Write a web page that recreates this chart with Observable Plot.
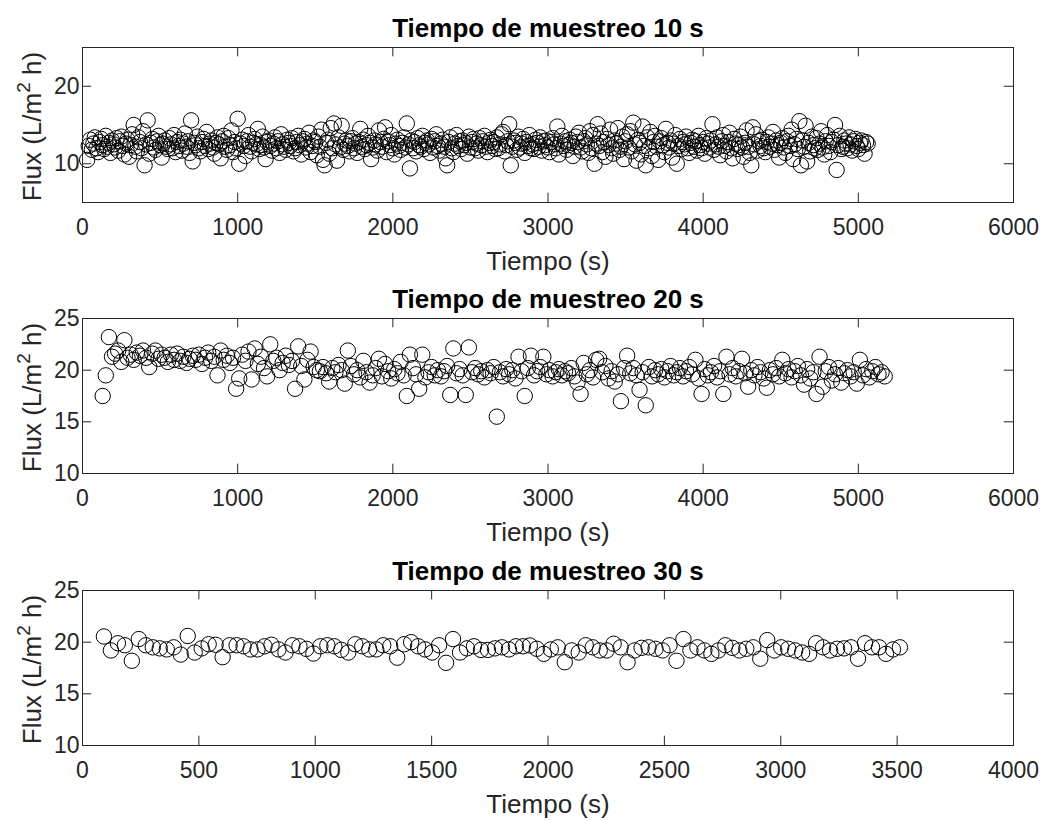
<!DOCTYPE html>
<html><head><meta charset="utf-8">
<script src="https://cdn.jsdelivr.net/npm/d3@7"></script>
<script src="https://cdn.jsdelivr.net/npm/@observablehq/plot@0.6"></script>
<style>
html,body{margin:0;padding:0;background:#fff;}
#fig{position:relative;width:1054px;height:821px;background:#fff;}
#fig svg{position:absolute;left:0;}
</style></head><body><div id="fig"></div>
<script>
const panelTitles = ["Tiempo de muestreo 10 s", "Tiempo de muestreo 20 s", "Tiempo de muestreo 30 s"];
const xLabel = "Tiempo (s)";

// Sampling: first sample time (s) and sampling interval (s)
const start10 = 30, step10 = 10;
const flux10 = [
10.5,12.3,13.1,11.8,12.6,13.4,12.0,11.5,12.8,13.2,
12.4,11.9,13.6,12.2,12.7,11.4,13.0,12.5,12.1,13.3,
11.7,12.9,13.5,12.3,11.2,12.6,13.1,10.9,12.4,13.8,
15.0,12.2,11.6,13.4,12.8,12.0,14.2,9.8,12.5,15.6,
11.3,12.7,13.2,12.1,11.8,12.9,13.6,12.4,10.8,12.6,
13.0,12.2,11.9,13.3,12.5,12.0,13.7,11.5,12.8,12.3,
13.1,11.7,12.6,13.9,12.2,12.9,11.4,15.6,10.3,12.7,
12.4,13.5,12.0,11.6,12.8,13.2,12.3,14.1,11.9,12.6,
13.0,12.1,11.3,12.7,13.4,12.5,10.7,12.9,13.6,12.2,
11.8,13.3,12.4,14.3,11.5,12.8,12.0,15.8,10.0,12.6,
13.1,12.3,11.0,12.9,13.7,12.2,11.6,12.7,13.2,12.5,
14.5,11.9,12.4,13.5,12.1,10.6,12.8,13.0,12.3,11.7,
12.6,13.4,12.0,12.9,11.4,13.8,12.5,12.2,11.8,13.1,
12.7,12.3,13.3,11.6,12.0,12.8,13.6,12.4,11.2,12.9,
13.2,12.1,12.6,14.0,11.5,12.3,13.0,12.8,11.1,13.5,
12.2,14.4,10.5,9.8,12.7,13.1,11.3,14.6,12.0,15.2,
12.5,10.4,13.4,12.1,14.9,11.8,12.6,13.0,12.3,11.6,
12.9,13.3,12.0,12.6,11.4,12.8,14.5,12.2,13.1,11.9,
12.4,13.6,12.7,10.6,12.1,13.0,12.5,11.7,14.3,12.8,
12.2,13.2,14.7,11.5,12.9,12.4,13.7,12.0,11.2,12.6,
13.1,12.3,11.8,12.7,13.4,12.1,15.2,12.5,9.4,13.0,
12.0,12.8,11.6,13.3,12.4,12.2,13.6,11.9,12.7,13.0,
12.5,11.4,13.2,12.1,12.9,13.8,12.3,11.7,12.6,13.1,
12.2,10.7,9.8,12.8,13.4,12.0,11.5,12.6,13.7,12.3,
12.9,11.9,13.0,12.4,12.7,11.3,13.5,12.1,12.8,13.2,
12.0,12.6,11.7,13.3,12.4,12.9,13.6,12.2,11.5,12.7,
13.1,12.3,12.8,11.9,13.4,12.0,12.5,13.8,14.1,11.6,
12.4,12.9,15.1,9.8,12.2,13.0,12.7,11.8,13.5,12.1,
12.6,13.2,11.4,12.8,12.3,13.7,12.0,12.5,11.9,13.1,
12.7,12.2,13.4,11.7,12.9,12.4,13.0,12.1,11.5,12.8,
13.3,12.5,12.0,14.8,11.2,12.6,13.6,12.3,12.9,11.8,
12.4,13.1,12.7,11.0,12.2,13.5,12.8,14.0,12.1,11.6,
12.9,13.3,12.5,11.4,14.2,12.0,13.7,10.0,12.6,15.1,
12.3,13.9,11.5,12.8,10.9,13.2,12.4,14.4,12.0,11.3,
13.0,12.6,14.6,11.8,12.2,13.5,10.6,12.9,13.8,12.1,
14.2,11.6,15.3,12.5,10.4,13.1,12.7,11.2,14.8,12.3,
9.8,13.4,12.0,14.1,11.0,12.8,13.6,12.2,10.5,12.9,
13.3,12.4,11.5,14.5,12.7,12.1,13.0,10.8,12.6,13.7,
10.0,12.3,13.2,11.9,12.8,12.5,13.5,12.0,11.4,12.7,
13.1,12.2,12.9,11.7,13.6,12.4,12.0,12.8,11.3,13.3,
12.6,12.1,13.0,15.1,11.8,12.5,13.4,12.2,11.1,12.9,
13.7,12.3,11.6,12.8,14.0,12.0,10.7,13.2,12.6,11.9,
12.4,13.5,12.1,10.9,12.7,14.3,12.2,11.4,9.8,14.7,
12.5,13.8,11.7,12.9,12.3,13.1,12.0,11.5,12.8,13.4,
12.2,12.6,14.1,11.8,13.0,12.4,10.8,12.7,13.3,12.1,
11.4,12.9,13.6,12.3,14.4,10.6,12.5,13.2,11.9,15.5,
9.8,13.0,12.2,14.9,10.3,12.7,11.6,13.5,12.4,12.0,
13.3,11.8,12.6,14.2,12.1,11.2,12.9,13.7,12.3,11.5,
12.8,13.1,15.0,9.2,12.4,13.6,11.9,12.2,13.0,12.6,
12.0,13.4,12.5,11.7,12.9,13.2,12.3,11.9,12.7,13.0,
12.4,11.3,12.8,12.6
];

const start20 = 130, step20 = 20;
const flux20 = [
17.5,19.5,23.2,21.3,21.6,21.9,20.8,22.9,21.2,21.5,
21.0,21.7,21.4,21.9,21.2,20.3,21.6,21.9,21.1,21.5,
21.2,20.8,21.5,21.0,21.6,20.9,21.3,20.7,21.1,21.4,
21.0,21.5,20.6,21.2,21.7,20.9,21.3,19.5,21.9,21.0,
21.4,20.7,21.2,18.2,19.2,21.5,20.9,21.8,19.1,22.1,
20.6,21.3,20.2,19.4,22.5,20.9,21.2,20.0,20.7,21.4,
20.5,20.9,18.2,22.3,20.4,19.1,21.0,21.8,20.3,20.0,
19.9,20.3,19.7,18.9,20.2,19.8,20.5,20.0,18.7,21.9,
20.4,19.6,20.0,19.3,20.9,19.8,18.8,19.5,20.2,21.1,
19.4,20.6,19.9,19.2,20.1,19.7,20.8,19.5,17.5,21.5,
20.2,19.6,18.2,21.5,19.3,19.8,20.3,19.5,20.0,19.4,
19.9,20.4,17.6,22.1,19.7,20.1,19.5,17.6,22.2,19.8,
20.2,19.6,19.9,19.3,20.0,19.7,20.3,15.5,19.8,19.4,
20.1,19.6,20.0,19.2,21.3,19.9,17.5,20.2,21.4,19.5,
19.9,20.3,21.3,19.6,20.0,19.4,19.8,20.1,19.5,19.9,
19.7,20.2,19.4,18.8,17.7,20.7,19.6,20.0,19.3,21.0,
21.1,19.8,20.4,19.2,19.9,18.9,19.6,17.0,20.2,21.4,
19.7,20.2,19.5,18.1,19.8,16.6,20.3,19.4,20.0,19.6,
20.1,19.3,19.9,20.4,19.5,19.8,20.2,19.4,19.9,20.3,
19.6,21.0,19.2,17.7,20.1,19.5,19.8,20.4,19.3,19.9,
17.7,21.3,19.6,20.2,19.4,19.9,21.1,19.7,18.4,20.0,
19.5,20.3,19.8,19.2,18.3,20.0,19.6,20.2,19.4,21.0,
19.7,20.1,19.3,19.9,20.4,19.5,18.6,20.1,19.2,19.8,
17.7,21.3,18.4,19.9,20.3,19.0,19.6,20.2,18.8,19.7,
20.0,19.4,19.8,18.7,21.0,19.5,20.1,19.3,19.9,20.3,
19.6,19.8,19.4
];

const start30 = 92, step30 = 30;
const flux30 = [
20.55,19.2,19.9,19.7,18.2,20.3,19.7,19.5,19.4,19.3,
19.5,18.8,20.6,19.0,19.4,19.8,19.75,18.55,19.7,19.7,
19.6,19.3,19.3,19.6,19.75,19.3,19.0,19.7,19.6,19.35,
18.9,19.6,19.7,19.6,19.25,19.0,19.8,19.6,19.3,19.3,
19.7,19.6,18.5,19.8,20.0,19.6,19.3,19.0,19.7,18.0,
20.3,19.0,19.4,19.6,19.25,19.25,19.4,19.5,19.3,19.6,
19.6,
19.68,19.36,18.87,19.3,19.5,18.06,19.2,19.0,19.7,19.5,
19.2,19.2,19.85,19.5,18.06,19.2,19.45,19.5,19.36,19.2,
19.7,18.2,20.3,19.2,19.5,19.2,18.87,19.2,19.7,19.45,
19.2,19.36,19.5,18.4,20.2,19.2,19.5,19.36,19.2,19.0,
18.87,19.9,19.5,19.2,19.36,19.4,19.5,18.4,19.9,19.5,
19.5,18.87,19.3,19.5
];

const xTicks6000 = [0, 1000, 2000, 3000, 4000, 5000, 6000];
const xTicks4000 = [0, 500, 1000, 1500, 2000, 2500, 3000, 3500, 4000];
const yTicksTop = [10, 20];
const yTicksLow = [10, 15, 20, 25];

const FONT = "'Liberation Sans', Arial, Helvetica, sans-serif";
const AX = "#262626";

function panel({title, values, start, step, xDomain, xTicks, yDomain, yTicks, top}) {
  const data = values.map((v, i) => ({t: start + i * step, flux: v}));
  const W = 1054, H = 270, mL = 82, mR = 41, mT = 47, mB = 68;
  const fw = W - mL - mR, fh = H - mT - mB, tl = 9.3;
  const svg = Plot.plot({
    width: W, height: H,
    marginLeft: mL, marginRight: mR, marginTop: mT, marginBottom: mB,
    style: {fontFamily: FONT, fontSize: "23px", color: AX, background: "none", overflow: "visible"},
    x: {domain: xDomain},
    y: {domain: yDomain},
    marks: [
      Plot.dot(data, {x: "t", y: "flux", r: 7.7, stroke: "black", strokeWidth: 1, fill: "none"}),
      Plot.frame({stroke: AX, strokeWidth: 1}),
      Plot.tickX(xTicks, {x: d => d, insetTop: fh - tl, stroke: AX}),
      Plot.tickX(xTicks, {x: d => d, insetBottom: fh - tl, stroke: AX}),
      Plot.tickY(yTicks, {y: d => d, insetRight: fw - tl, stroke: AX}),
      Plot.tickY(yTicks, {y: d => d, insetLeft: fw - tl, stroke: AX}),
      Plot.axisX({anchor: "bottom", ticks: xTicks, tickSize: 0, tickPadding: 16.5, tickFormat: d => String(d), label: null, fontSize: 23}),
      Plot.axisY({anchor: "left", ticks: yTicks, tickSize: 0, tickPadding: 3, tickFormat: d => String(d), label: null, fontSize: 23}),
      Plot.text([title], {text: d => d, frameAnchor: "top", dy: -10.5, lineAnchor: "bottom", fontSize: 26, fontWeight: "bold", fill: "black"}),
      Plot.text([xLabel], {text: d => d, frameAnchor: "bottom", dy: 67, lineAnchor: "bottom", fontSize: 26, fill: AX})
    ]
  });
  const t = d3.select(svg).append("text")
    .attr("transform", `translate(41,${mT + fh / 2 + 2}) rotate(-90)`)
    .attr("text-anchor", "middle")
    .attr("font-family", FONT)
    .attr("font-size", 26)
    .attr("fill", AX);
  t.append("tspan").text("Flux (L/m");
  t.append("tspan").attr("font-size", 19).attr("dy", -11).text("2");
  t.append("tspan").attr("dy", 11).text(" h)");
  svg.style.position = "absolute";
  svg.style.top = top + "px";
  svg.style.left = "0px";
  document.getElementById("fig").appendChild(svg);
}

panel({title: panelTitles[0], values: flux10, start: start10, step: step10, xDomain: [0, 6000], xTicks: xTicks6000, yDomain: [5, 25], yTicks: yTicksTop, top: 0});
panel({title: panelTitles[1], values: flux20, start: start20, step: step20, xDomain: [0, 6000], xTicks: xTicks6000, yDomain: [10, 25], yTicks: yTicksLow, top: 271});
panel({title: panelTitles[2], values: flux30, start: start30, step: step30, xDomain: [0, 4000], xTicks: xTicks4000, yDomain: [10, 25], yTicks: yTicksLow, top: 543});
</script></body></html>
